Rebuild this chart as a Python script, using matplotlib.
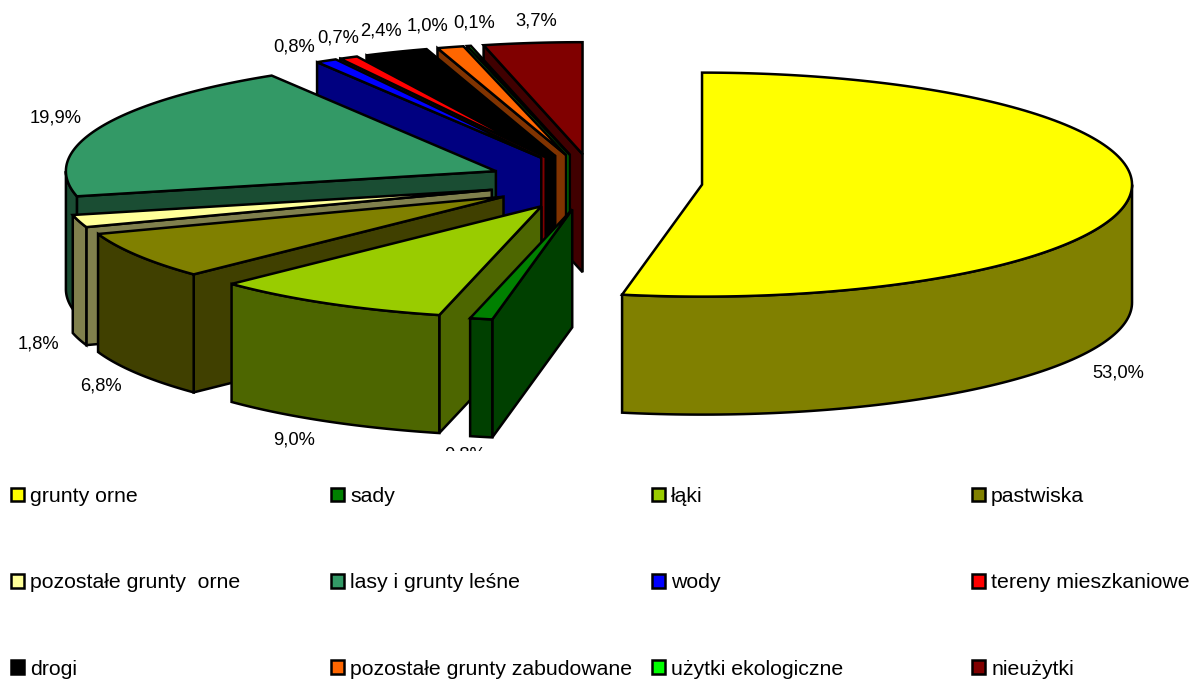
import numpy as np
import matplotlib
matplotlib.use("Agg")
import matplotlib.pyplot as plt
from matplotlib.legend import Legend
from matplotlib.patches import Polygon, Patch
from matplotlib.transforms import Bbox, TransformedBbox

categories = ["grunty orne", "sady", "łąki", "pastwiska", "pozostałe grunty  orne",
              "lasy i grunty leśne", "wody", "tereny mieszkaniowe", "drogi",
              "pozostałe grunty zabudowane", "użytki ekologiczne", "nieużytki"]
shares = [53.04, 0.84, 9.0, 6.8, 1.8, 19.9, 0.8, 0.7, 2.4, 1.0, 0.14, 3.7]
pct_labels = ["53,0%", "0,8%", "9,0%", "6,8%", "1,8%", "19,9%", "0,8%", "0,7%", "2,4%", "1,0%", "0,1%", "3,7%"]
top_colors = ["#FFFF00", "#008000", "#99CC00", "#808000", "#FFFF99", "#339966",
              "#0000FF", "#FF0000", "#000000", "#FF6600", "#00FF00", "#800000"]

plt.rcParams["font.family"] = ["Liberation Sans", "DejaVu Sans"]
fig = plt.figure(figsize=(11.92, 6.79), dpi=100)
ax = fig.add_axes([0, 0, 1, 1])
ax.set_xlim(0, 1192)
ax.set_ylim(679, 0)
ax.axis("off")

CX, CY, RX, RY, DEPTH, EXPLODE = 595, 182, 430, 112, 118, 0.25
LW = 1.8


def darker(color):
    r, g, b = matplotlib.colors.to_rgb(color)
    return (r / 2, g / 2, b / 2)


def point(ox, oy, deg):
    t = np.radians(deg)
    return ox + RX * np.sin(t), oy - RY * np.cos(t)


def face(pts, color, z):
    ax.add_patch(Polygon(pts, closed=True, facecolor=color, edgecolor="black",
                         linewidth=LW, joinstyle="miter", zorder=z))


edges = 360 * np.cumsum([0] + shares) / sum(shares)
wedges = []
for i, (a, b) in enumerate(zip(edges[:-1], edges[1:])):
    m = np.radians((a + b) / 2)
    ox = CX + EXPLODE * RX * np.sin(m)
    oy = CY - EXPLODE * RY * np.cos(m)
    wedges.append((oy, i, a, b, ox))

for order, (oy, i, a, b, ox) in enumerate(sorted(wedges)):
    top, dark = top_colors[i], darker(top_colors[i])
    z = 2 + order * 0.1
    if np.sin(np.radians(b)) > 1e-6:
        x, y = point(ox, oy, b)
        face([(ox, oy), (x, y), (x, y + DEPTH), (ox, oy + DEPTH)], dark, z)
    if np.sin(np.radians(a)) < -1e-6:
        x, y = point(ox, oy, a)
        face([(ox, oy), (x, y), (x, y + DEPTH), (ox, oy + DEPTH)], dark, z)
    lo, hi = max(a, 90), min(b, 270)
    if hi > lo:
        xs, ys = point(ox, oy, np.linspace(lo, hi, 100))
        pts = np.r_[np.c_[xs, ys], np.c_[xs, ys + DEPTH][::-1]]
        face(pts, dark, z + 0.01)
    xs, ys = point(ox, oy, np.linspace(a, b, 150))
    face(np.r_[[(ox, oy)], np.c_[xs, ys]], top, z + 0.02)

label_xy = [(1118, 373), (465, 455), (294, 440), (101, 386), (38, 344), (56, 118),
            (294, 47), (338, 38), (381, 31), (428, 26), (474, 23), (536, 21)]
clip = TransformedBbox(Bbox([[0, 0], [1192, 451]]), ax.transData)
for txt, (x, y) in zip(pct_labels, label_xy):
    t = ax.text(x, y, txt, ha="center", va="center", fontsize=13.2, color="black", zorder=10)
    t.set_clip_box(clip)
    t.set_clip_on(True)

col_x = [11, 331, 652, 972]
for c, x in enumerate(col_x):
    idx = range(c, 12, 4)
    handles = [Patch(facecolor=top_colors[i], edgecolor="black", linewidth=LW) for i in idx]
    leg = Legend(ax, handles, [categories[i] for i in idx], loc="upper left",
                 bbox_to_anchor=(x, 487), bbox_transform=ax.transData, frameon=False,
                 fontsize=15.35, borderpad=0, borderaxespad=0, handlelength=0.62,
                 handleheight=0.62, handletextpad=0.28, labelspacing=3.16, labelcolor="black")
    ax.add_artist(leg)

fig.savefig("out.png", dpi=100, facecolor="white")
